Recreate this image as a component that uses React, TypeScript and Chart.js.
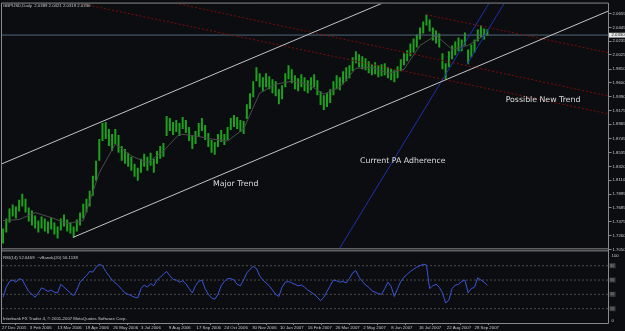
import { useEffect, useRef } from 'react';
import { Chart, registerables } from 'chart.js';
Chart.register(...registerables);

// ---------- data ----------
const symbolTitle = 'GBPUSD,Daily';
const lastOHLC = [2.0389, 2.0421, 2.0319, 2.033];
const rsiTitle = 'RSI(14) 52.6469  ~vBands(20) 56.1138';
const copyright = 'Interbank FX Trader 4, \u00a9 2001-2007 MetaQuotes Software Corp.';

const dateLabels = [
  '27 Dec 2005', '3 Feb 2006', '13 Mar 2006', '19 Apr 2006', '26 May 2006', '3 Jul 2006',
  '9 Aug 2006', '17 Sep 2006', '24 Oct 2006', '30 Nov 2006', '10 Jan 2007', '16 Feb 2007',
  '26 Mar 2007', '2 May 2007', '8 Jun 2007', '16 Jul 2007', '22 Aug 2007', '28 Sep 2007',
];
const BARS_PER_LABEL = 26;
const SAMPLE_STEP = 3; // bars per sample
const FIRST_BAR = 1;
const X_MAX = 567.3;

const priceTicks = [
  2.0655, 2.0445, 2.0235, 2.0025, 1.981, 1.96, 1.939, 1.9175, 1.8965, 1.8745,
  1.8535, 1.832, 1.811, 1.7895, 1.7685, 1.7475, 1.726, 1.705,
];
const PRICE_MIN = 1.705;
const PRICE_MAX = 2.0812;

const highs = [
  1.7370, 1.7522, 1.7674, 1.7735, 1.7705, 1.7811, 1.7903, 1.7826, 1.7689, 1.7644,
  1.7568, 1.7491, 1.7552, 1.7522, 1.7476, 1.7537, 1.7461, 1.7400, 1.7522, 1.7583,
  1.7507, 1.7461, 1.7400, 1.7507, 1.7613, 1.7750, 1.7826, 1.7948, 1.8177, 1.8405,
  1.8740, 1.8984, 1.8999, 1.8893, 1.8816, 1.8893, 1.8801, 1.8634, 1.8588, 1.8527,
  1.8466, 1.8360, 1.8299, 1.8436, 1.8512, 1.8466, 1.8527, 1.8436, 1.8557, 1.8634,
  1.8679, 1.9090, 1.9060, 1.8999, 1.9030, 1.8984, 1.9075, 1.9030, 1.8923, 1.8786,
  1.8862, 1.8984, 1.9060, 1.8953, 1.8832, 1.8725, 1.8695, 1.8816, 1.8877, 1.8816,
  1.8923, 1.9060, 1.9106, 1.9075, 1.9030, 1.9014, 1.9273, 1.9441, 1.9624, 1.9837,
  1.9745, 1.9685, 1.9745, 1.9700, 1.9654, 1.9624, 1.9502, 1.9563, 1.9745, 1.9867,
  1.9806, 1.9715, 1.9669, 1.9730, 1.9685, 1.9639, 1.9685, 1.9730, 1.9639, 1.9471,
  1.9410, 1.9441, 1.9502, 1.9624, 1.9715, 1.9685, 1.9776, 1.9837, 1.9867, 1.9989,
  2.0081, 2.0035, 2.0004, 1.9974, 1.9928, 1.9883, 1.9913, 1.9867, 1.9883, 1.9898,
  1.9837, 1.9822, 1.9791, 1.9852, 1.9959, 2.0050, 2.0096, 2.0202, 2.0279, 2.0339,
  2.0446, 2.0537, 2.0644, 2.0568, 2.0446, 2.0400, 2.0355, 2.0050, 1.9898, 2.0081,
  2.0172, 2.0233, 2.0294, 2.0263, 2.0370, 2.0111, 2.0187, 2.0263, 2.0416, 2.0477,
  2.0431, 2.0421,
];
const lows = [
  1.7141, 1.7309, 1.7461, 1.7552, 1.7522, 1.7628, 1.7705, 1.7613, 1.7476, 1.7415,
  1.7370, 1.7309, 1.7370, 1.7324, 1.7293, 1.7354, 1.7278, 1.7217, 1.7339, 1.7400,
  1.7324, 1.7293, 1.7233, 1.7324, 1.7415, 1.7522, 1.7613, 1.7705, 1.7872, 1.8101,
  1.8405, 1.8710, 1.8740, 1.8634, 1.8557, 1.8664, 1.8527, 1.8405, 1.8360, 1.8314,
  1.8253, 1.8161, 1.8101, 1.8222, 1.8314, 1.8253, 1.8329, 1.8222, 1.8360, 1.8436,
  1.8466, 1.8786, 1.8862, 1.8801, 1.8847, 1.8786, 1.8893, 1.8832, 1.8710, 1.8588,
  1.8664, 1.8771, 1.8862, 1.8725, 1.8618, 1.8527, 1.8497, 1.8618, 1.8695, 1.8649,
  1.8725, 1.8877, 1.8923, 1.8893, 1.8847, 1.8816, 1.9045, 1.9197, 1.9380, 1.9624,
  1.9532, 1.9471, 1.9532, 1.9502, 1.9441, 1.9395, 1.9273, 1.9349, 1.9532, 1.9654,
  1.9593, 1.9502, 1.9471, 1.9532, 1.9471, 1.9441, 1.9487, 1.9532, 1.9410, 1.9258,
  1.9182, 1.9228, 1.9289, 1.9410, 1.9502, 1.9487, 1.9578, 1.9624, 1.9669, 1.9776,
  1.9898, 1.9837, 1.9806, 1.9791, 1.9745, 1.9715, 1.9730, 1.9685, 1.9700, 1.9715,
  1.9669, 1.9639, 1.9608, 1.9669, 1.9776, 1.9867, 1.9928, 2.0004, 2.0065, 2.0141,
  2.0263, 2.0355, 2.0477, 2.0385, 2.0248, 2.0202, 2.0141, 1.9806, 1.9654, 1.9837,
  1.9959, 2.0020, 2.0081, 2.0081, 2.0172, 1.9883, 1.9989, 2.0065, 2.0233, 2.0294,
  2.0263, 2.0319,
];
const MA_EVERY = 5; // one MA reading per 5 samples
const maValues = [
  1.7491, 1.7507, 1.7613, 1.7537, 1.7446, 1.7491, 1.8222, 1.8664, 1.8481, 1.8375,
  1.8557, 1.8816, 1.8786, 1.8740, 1.8710, 1.8893, 1.9441, 1.9578, 1.9624, 1.9578,
  1.9426, 1.9532, 1.9822, 1.9837, 1.9745, 1.9806, 2.0172, 2.0324, 2.0111, 2.0172,
  2.0324,
];
const rsiValues = [
  36, 50, 58, 60, 57, 62, 60, 52, 44, 40, 36, 42, 49, 47, 44, 46, 43, 42, 54, 50,
  46, 42, 38, 46, 57, 62, 66, 72, 71, 78, 82, 80, 72, 66, 60, 56, 52, 47, 42, 40,
  38, 36, 35, 48, 53, 50, 55, 52, 60, 64, 68, 72, 66, 61, 60, 57, 59, 55, 48, 42,
  52, 58, 60, 48, 40, 35, 33, 40, 52, 58, 62, 62, 60, 54, 52, 60, 70, 75, 79, 76,
  66, 60, 56, 52, 46, 40, 37, 50, 57, 58, 56, 54, 52, 53, 50, 46, 43, 40, 36, 31,
  36, 44, 52, 60, 59, 57, 58, 56, 62, 70, 73, 64, 58, 53, 50, 45, 43, 41, 40, 48,
  57, 51, 37, 48, 58, 64, 68, 72, 75, 78, 80, 82, 81, 48, 52, 54, 50, 42, 28, 32,
  48, 53, 54, 58, 60, 42, 48, 50, 63, 60, 57, 52.6,
];
const rsiLevels = [80, 60, 40, 20];
const RSI_MAX = 102.8;

// trend lines: [startBar, startPrice, endBar, endPrice]
const whiteLines = [
  [0, 1.836, 400, 2.1124],
  [66.4, 1.7233, 567.3, 2.0699],
];
const blueLines = [
  [290, 1.6373, 480, 2.1473],
  [435, 1.9883, 480, 2.1091],
];
const redLines = [
  [396.6, 2.0644, 567.3, 2.006],
  [100, 2.1037, 567.3, 1.9397],
  [70, 2.0825, 567.3, 1.9124],
];
const annotations = [
  { text: 'Major Trend', bar: 197.4, price: 1.8044 },
  { text: 'Current PA Adherence', bar: 334.9, price: 1.8405 },
  { text: 'Possible New Trend', bar: 471.1, price: 1.9334 },
];

// ---------- styles ----------
const BG = '#0b0d10';
const BORDER = '#8a8a8a';
const TXT = '#c8c8c8';
const FONT = '"Liberation Sans", Arial, sans-serif';

const seg = (l: number[], color: string, dash: number[] = [], yAxisID = 'y') => ({
  type: 'line' as const,
  data: [{ x: l[0], y: l[1] }, { x: l[2], y: l[3] }],
  borderColor: color,
  borderWidth: 1,
  borderDash: dash,
  pointRadius: 0,
  yAxisID,
});

export default function App() {
  const ref = useRef<HTMLCanvasElement>(null);
  useEffect(() => {
    const canvas = ref.current!;
    const barX = (i: number) => FIRST_BAR + i * SAMPLE_STEP;

    const datasets: any[] = [
      ...whiteLines.map((l) => seg(l, '#c4c4c4')),
      ...blueLines.map((l) => seg(l, '#1f30b0')),
      ...redLines.map((l) => seg(l, '#7c0e0e', [2, 2])),
      seg([0, lastOHLC[3], X_MAX, lastOHLC[3]], '#52677a'),
      {
        type: 'line',
        data: maValues.map((v, k) => ({ x: barX(k * MA_EVERY), y: v })),
        borderColor: '#4c4c4c',
        borderWidth: 1,
        pointRadius: 0,
        yAxisID: 'y',
      },
      {
        type: 'bar',
        data: highs.map((h, i) => ({ x: barX(i), y: [lows[i], h] })),
        backgroundColor: '#1ea21e',
        borderWidth: 0,
        barPercentage: 0.62,
        categoryPercentage: 1,
        yAxisID: 'y',
      },
      {
        type: 'line',
        data: rsiValues.map((v, i) => ({ x: barX(i), y: v })),
        borderColor: '#3b55d8',
        borderWidth: 1,
        pointRadius: 0,
        yAxisID: 'y2',
      },
      ...rsiLevels.map((lv) => seg([0, lv, X_MAX, lv], '#4c4c4c', [2, 2], 'y2')),
    ];

    const panels = {
      id: 'panels',
      beforeDraw(chart: any) {
        const c = chart.ctx;
        c.save();
        c.fillStyle = BG;
        c.fillRect(0, 0, chart.width, chart.height);
        c.restore();
      },
      beforeDatasetDraw(chart: any, args: any) {
        const ys = chart.scales[args.meta.yAxisID];
        const a = chart.chartArea;
        const c = chart.ctx;
        const top = args.meta.yAxisID === 'y' ? ys.top : ys.top + 2;
        const bottom = args.meta.yAxisID === 'y' ? ys.bottom - 1 : ys.bottom;
        c.save();
        c.beginPath();
        c.rect(a.left, top, a.right - a.left, bottom - top);
        c.clip();
      },
      afterDatasetDraw(chart: any) {
        chart.ctx.restore();
      },
      afterDraw(chart: any) {
        const c = chart.ctx;
        const a = chart.chartArea;
        const y = chart.scales.y;
        const y2 = chart.scales.y2;
        const x = chart.scales.x;
        const L = a.left - 0.5, R = a.right, T = a.top - 0.5, B = a.bottom + 0.5;
        c.save();
        c.strokeStyle = BORDER;
        c.lineWidth = 1;
        c.beginPath();
        c.moveTo(L, T); c.lineTo(R, T);
        c.moveTo(L, T); c.lineTo(L, B);
        c.moveTo(R, T); c.lineTo(R, B);
        c.moveTo(L, y.bottom - 0.5); c.lineTo(R, y.bottom - 0.5);
        c.moveTo(L, y2.top + 1.5); c.lineTo(R, y2.top + 1.5);
        c.moveTo(L, B); c.lineTo(R, B);
        c.stroke();

        c.textBaseline = 'middle';
        c.textAlign = 'left';
        c.fillStyle = TXT;
        c.font = `4.3px ${FONT}`;
        c.fillText(`${symbolTitle}  ${lastOHLC.map((v) => v.toFixed(4)).join(' ')}`, a.left + 1, a.top + 2.5);
        c.fillText(rsiTitle, a.left + 1, y2.top + 8);
        c.fillText(copyright, a.left + 1, y2.bottom - 4);

        // RSI scale labels
        c.fillText('100', R + 3, y2.top + 6);
        c.fillText('0', R + 3, y2.bottom - 2.3);
        rsiLevels.forEach((lv) => {
          const py = y2.getPixelForValue(lv);
          c.fillStyle = '#3e3e3e';
          c.fillRect(R + 1, py - 2.5, 6, 5);
          c.fillStyle = '#8a8a8a';
          c.font = `3.6px ${FONT}`;
          c.fillText(String(lv), R + 1.8, py);
        });

        // current price box
        const pp = y.getPixelForValue(lastOHLC[3]);
        c.fillStyle = '#e8e8e8';
        c.fillRect(R + 0.5, pp - 2.3, 16, 4.8);
        c.fillStyle = '#111';
        c.font = `4.3px ${FONT}`;
        c.fillText(lastOHLC[3].toFixed(4), R + 3, pp + 0.1);

        // annotations
        c.fillStyle = '#dedede';
        c.font = '7.8px "DejaVu Sans", sans-serif';
        annotations.forEach((t) => {
          c.fillText(t.text, x.getPixelForValue(t.bar), y.getPixelForValue(t.price));
        });
        c.restore();
      },
    };

    const chart = new Chart(canvas, {
      type: 'bar',
      data: { datasets },
      plugins: [panels],
      options: {
        responsive: false,
        animation: false,
        devicePixelRatio: 1,
        events: [],
        layout: { padding: { left: 2, top: 2, right: 0, bottom: 0 } },
        plugins: { legend: { display: false }, tooltip: { enabled: false } },
        scales: {
          x: {
            type: 'linear',
            position: 'bottom',
            min: 0,
            max: X_MAX,
            offset: false,
            afterBuildTicks: (s: any) => {
              s.ticks = dateLabels.map((_, k) => ({ value: k * BARS_PER_LABEL }));
            },
            afterFit: (s: any) => { s.height = 8; },
            ticks: {
              autoSkip: false,
              maxRotation: 0,
              minRotation: 0,
              align: 'start',
              padding: 0.5,
              color: TXT,
              font: { size: 4.3, family: FONT },
              callback: (_v: any, i: number) => dateLabels[i],
            },
            grid: { drawOnChartArea: false, drawTicks: true, tickLength: 2, color: BORDER },
            border: { display: false },
          },
          y: {
            type: 'linear',
            position: 'right',
            stack: 'pane',
            stackWeight: 247,
            min: PRICE_MIN,
            max: PRICE_MAX,
            afterBuildTicks: (s: any) => {
              s.ticks = priceTicks.map((v) => ({ value: v }));
            },
            afterFit: (s: any) => { s.width = 16.5; },
            ticks: {
              autoSkip: false,
              padding: 1,
              color: TXT,
              font: { size: 4.3, family: FONT },
              callback: (v: any) => Number(v).toFixed(4),
            },
            grid: { drawOnChartArea: false, drawTicks: true, tickLength: 3, color: BORDER },
            border: { display: false },
          },
          y2: {
            type: 'linear',
            position: 'right',
            stack: 'pane',
            stackWeight: 74,
            min: 0,
            max: RSI_MAX,
            afterFit: (s: any) => { s.width = 16.5; },
            ticks: { display: false },
            grid: { display: false },
            border: { display: false },
          },
        },
      } as any,
    });
    return () => chart.destroy();
  }, []);

  return (
    <div style={{ position: 'fixed', left: 0, top: 0, width: 625, height: 331, background: BG }}>
      <canvas ref={ref} width={625} height={331} style={{ display: 'block' }} />
    </div>
  );
}
